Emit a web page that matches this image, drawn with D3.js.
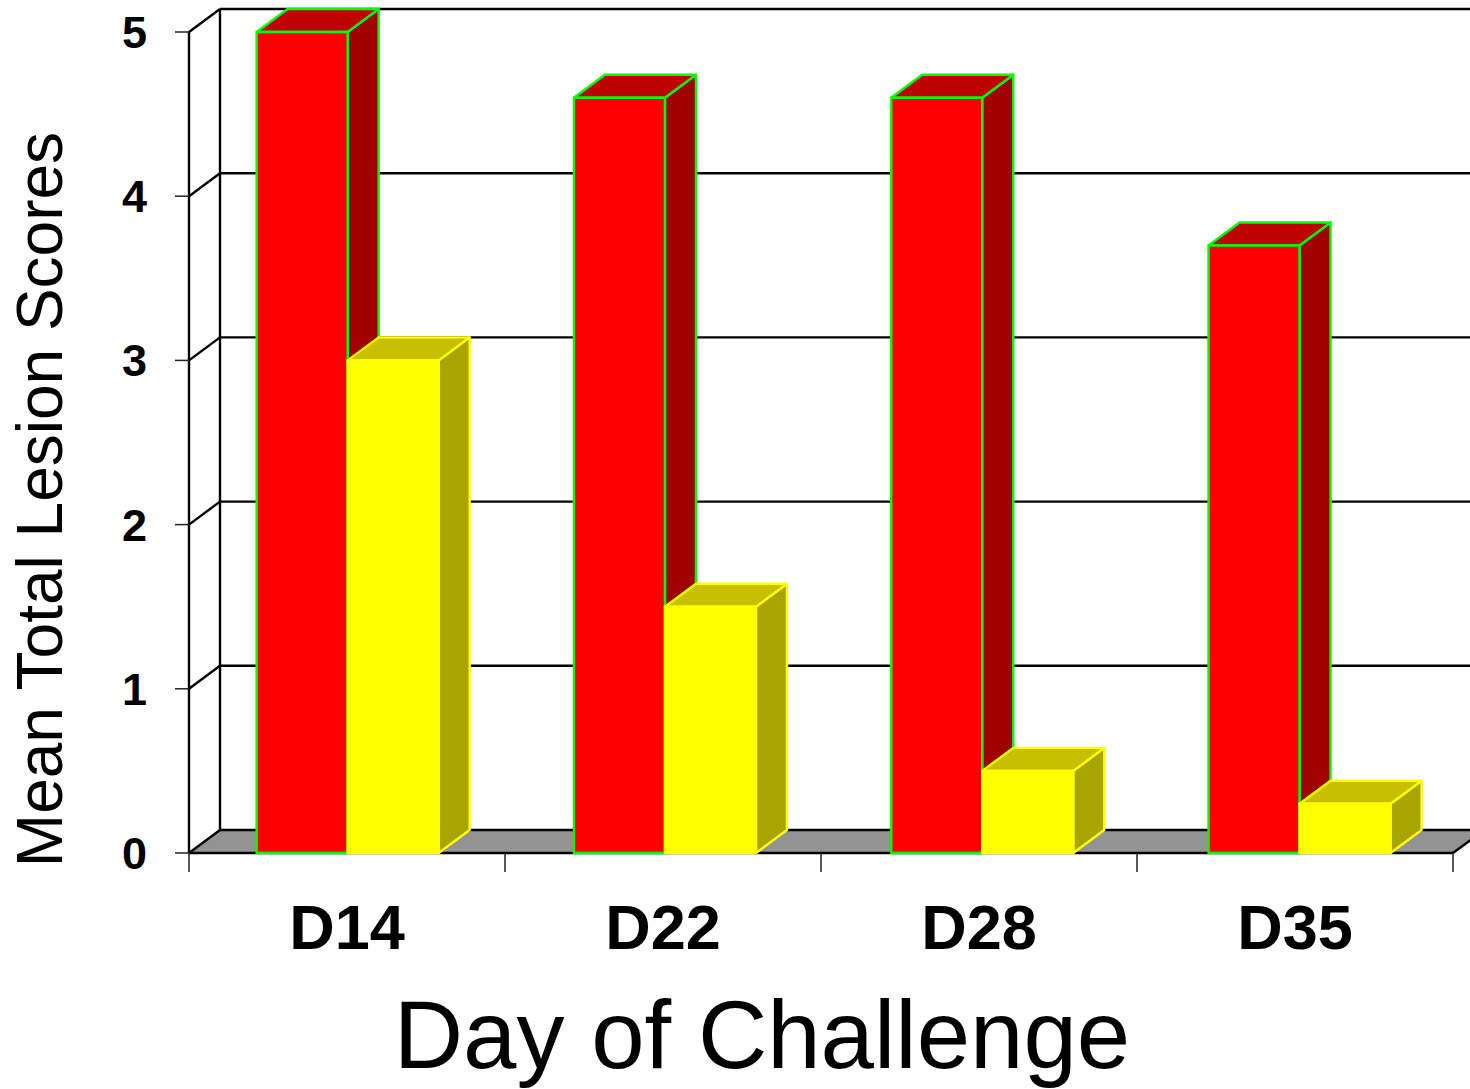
<!DOCTYPE html>
<html>
<head>
<meta charset="utf-8">
<script src="https://cdn.jsdelivr.net/npm/d3@7"></script>
<style>
  html, body { margin: 0; padding: 0; background: #fff; overflow: hidden; }
  svg { display: block; }
  text { font-family: "Liberation Sans", Arial, sans-serif; fill: #000; }
</style>
</head>
<body>
<svg id="chart" width="1470" height="1089"></svg>
<script>
const days = ["D14", "D22", "D28", "D35"];
const seriesNames = ["first", "second"];
const firstValues = [5.0, 4.6, 4.6, 3.7];
const secondValues = [3.0, 1.5, 0.5, 0.3];
const yTicks = [0, 1, 2, 3, 4, 5];
const xTitle = "Day of Challenge";
const yTitle = "Mean Total Lesion Scores";

const palette = {
  first:  { front: "#ff0000", top: "#bf0000", side: "#a00000", edge: "#00ff00" },
  second: { front: "#ffff00", top: "#c6c000", side: "#a8a400", edge: "#ffff00" }
};

// Oblique offset from the front plane of the box to its back wall.
const depth = { dx: 31, dy: -23 };

const svg = d3.select("#chart");
const x = d3.scaleBand().domain(days).range([189, 1453]);
// The bars sit on a slightly wider pitch than the axis categories.
const barX = d3.scaleBand().domain(days).range([189, 1458.2]);
const inner = d3.scaleBand().domain(seriesNames)
  .range([0, barX.bandwidth()]).paddingInner(0).paddingOuter(0.7434);
const y = d3.scaleLinear().domain([0, 5]).range([853, 32]);
const ink = "#000";

const poly = pts => pts.map(p => p.join(",")).join(" ");

// Floor of the box, running off the right side of the page.
const xEnd = x.range()[1];
svg.append("polygon")
  .attr("points", poly([
    [x.range()[0], y(0)],
    [x.range()[0] + depth.dx, y(0) + depth.dy],
    [xEnd + depth.dx, y(0) + depth.dy],
    [xEnd, y(0)]
  ]))
  .attr("fill", "#939393");

// Back wall gridlines and their slanted returns to the left wall.
const grid = svg.append("g").attr("stroke", ink).attr("stroke-width", 2.4).attr("fill", "none");
grid.selectAll("line.back").data(yTicks).join("line")
  .attr("x1", x.range()[0] + depth.dx).attr("x2", xEnd + depth.dx)
  .attr("y1", d => y(d) + depth.dy).attr("y2", d => y(d) + depth.dy);
grid.selectAll("line.slant").data(yTicks).join("line")
  .attr("x1", x.range()[0]).attr("x2", x.range()[0] + depth.dx)
  .attr("y1", d => y(d)).attr("y2", d => y(d) + depth.dy);
grid.append("line")
  .attr("x1", x.range()[0] + depth.dx).attr("x2", x.range()[0] + depth.dx)
  .attr("y1", y(0) + depth.dy).attr("y2", y(5) + depth.dy);
grid.append("line")
  .attr("x1", x.range()[0]).attr("x2", x.range()[0])
  .attr("y1", y(0)).attr("y2", y(5));
grid.append("line")
  .attr("x1", x.range()[0]).attr("x2", xEnd)
  .attr("y1", y(0)).attr("y2", y(0));
grid.append("line")
  .attr("x1", xEnd).attr("x2", xEnd + depth.dx)
  .attr("y1", y(0)).attr("y2", y(0) + depth.dy);

// Tick marks on the front axes.
const ticks = svg.append("g").attr("stroke", "#222").attr("stroke-width", 1.5);
ticks.selectAll("line.y").data(yTicks).join("line")
  .attr("x1", x.range()[0] - 14).attr("x2", x.range()[0])
  .attr("y1", d => y(d)).attr("y2", d => y(d));
ticks.selectAll("line.x").data(days.concat("end")).join("line")
  .attr("x1", (d, i) => x.range()[0] + i * x.step())
  .attr("x2", (d, i) => x.range()[0] + i * x.step())
  .attr("y1", y(0)).attr("y2", y(0) + 19);

// One oblique box: side and top faces first, front face last.
function drawBar(parent, left, width, value, colours) {
  const top = y(value), base = y(0), right = left + width;
  const g = parent.append("g")
    .attr("stroke", colours.edge).attr("stroke-width", 2.4).attr("stroke-linejoin", "round");
  g.append("polygon").attr("fill", colours.side).attr("points", poly([
    [right, base], [right + depth.dx, base + depth.dy],
    [right + depth.dx, top + depth.dy], [right, top]
  ]));
  g.append("polygon").attr("fill", colours.top).attr("points", poly([
    [left, top], [left + depth.dx, top + depth.dy],
    [right + depth.dx, top + depth.dy], [right, top]
  ]));
  g.append("polygon").attr("fill", colours.front).attr("points", poly([
    [left, base], [left, top], [right, top], [right, base]
  ]));
}

const bars = svg.append("g");
days.forEach((day, i) => {
  drawBar(bars, barX(day) + inner("first"), inner.bandwidth(), firstValues[i], palette.first);
  drawBar(bars, barX(day) + inner("second"), inner.bandwidth(), secondValues[i], palette.second);
});

// Axis labels and titles.
svg.append("g").selectAll("text").data(yTicks).join("text")
  .attr("x", 147).attr("y", d => y(d) + 16)
  .attr("text-anchor", "end").attr("font-size", 45).attr("font-weight", 700)
  .text(d => d);

svg.append("g").selectAll("text").data(days).join("text")
  .attr("x", d => x(d) + x.bandwidth() / 2).attr("y", 949)
  .attr("text-anchor", "middle").attr("font-size", 63).attr("font-weight", 700)
  .text(d => d);

svg.append("text")
  .attr("x", 762).attr("y", 1068)
  .attr("text-anchor", "middle").attr("font-size", 96)
  .text(xTitle);

svg.append("text")
  .attr("transform", "translate(62,499.5) rotate(-90)")
  .attr("text-anchor", "middle").attr("font-size", 64)
  .text(yTitle);
</script>
</body>
</html>
